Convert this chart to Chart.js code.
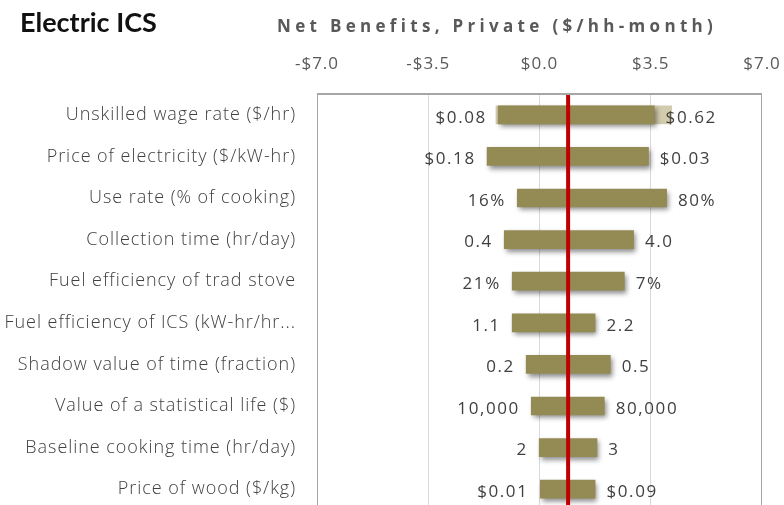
<!DOCTYPE html>
<html><head><meta charset="utf-8">
<script src="https://cdn.jsdelivr.net/npm/chart.js@4/dist/chart.umd.min.js"></script>
<style>
html,body{margin:0;padding:0;overflow:hidden;background:#fff;width:784px;height:505px}
#wrap{position:relative;width:784px;height:516px}
</style></head>
<body><div id="wrap"><canvas id="c" width="784" height="516"></canvas></div>
<script>
const chartTitle = 'Electric ICS';
const axisTitle = 'Net Benefits, Private ($/hh-month)';
const categories = [
  'Unskilled wage rate ($/hr)',
  'Price of electricity ($/kW-hr)',
  'Use rate (% of cooking)',
  'Collection time (hr/day)',
  'Fuel efficiency of trad stove',
  'Fuel efficiency of ICS (kW-hr/hr...',
  'Shadow value of time (fraction)',
  'Value of a statistical life ($)',
  'Baseline cooking time (hr/day)',
  'Price of wood ($/kg)'
];
const lowValues  = [-1.31, -1.66, -0.71, -1.12, -0.87, -0.87, -0.43, -0.27, -0.02, 0.00];
const highValues = [ 3.62,  3.44,  4.01,  2.97,  2.68,  1.76,  2.24,  2.05,  1.82, 1.76];
const lowLabels  = ['$0.08','$0.18','16%','0.4','21%','1.1','0.2','10,000','2','$0.01'];
const highLabels = ['$0.62','$0.03','80%','4.0','7%','2.2','0.5','80,000','3','$0.09'];
const ghostLow  = [-1.38, null, null, null, null, null, null, null, null, null];
const ghostHigh = [ 4.17, null, null, null, null, null, null, null, null, null];
const baseValue = 0.9;
const tickValues = [-7, -3.5, 0, 3.5, 7];

const fmtTick = v => (v < 0 ? '-' : '') + '$' + Math.abs(v).toFixed(1);
const zeroPad = s => { s.paddingLeft = 0; s.paddingRight = 0; s.paddingTop = 0; s.paddingBottom = 0; };

const decor = {
  id: 'decor',
  beforeDraw(chart) { chart.ctx.letterSpacing = '0.95px'; },
  beforeDatasetDraw(chart, args) {
    if (args.index === 0) {
      const c = chart.ctx; c.save();
      c.shadowColor = 'rgba(0,0,0,0.45)'; c.shadowBlur = 5;
      c.shadowOffsetX = 2; c.shadowOffsetY = 3;
    }
  },
  afterDatasetDraw(chart, args) { if (args.index === 0) chart.ctx.restore(); },
  afterDatasetsDraw(chart) {
    const c = chart.ctx, xs = chart.scales.x, ca = chart.chartArea;
    const meta = chart.getDatasetMeta(0);
    c.save();
    c.font = '17px "Open Sans"';
    c.fillStyle = '#404040';
    c.letterSpacing = '1.6px';
    c.textBaseline = 'middle';
    meta.data.forEach((el, i) => {
      const y = el.y + 3;
      c.textAlign = 'right';
      c.fillText(lowLabels[i], xs.getPixelForValue(lowValues[i]) - 11, y);
      c.textAlign = 'left';
      c.fillText(highLabels[i], xs.getPixelForValue(highValues[i]) + 11, y);
    });
    c.restore();
    const bx = xs.getPixelForValue(baseValue);
    c.save();
    c.strokeStyle = '#c00000'; c.lineWidth = 4;
    c.beginPath(); c.moveTo(bx, ca.top); c.lineTo(bx, ca.bottom); c.stroke();
    c.restore();
  },
  afterDraw(chart) {
    const c = chart.ctx, ca = chart.chartArea;
    c.save();
    c.strokeStyle = '#a6a6a6'; c.lineWidth = 1;
    c.beginPath();
    c.moveTo(ca.left + 0.5, ca.top); c.lineTo(ca.left + 0.5, ca.bottom);
    c.moveTo(ca.right - 0.5, ca.top); c.lineTo(ca.right - 0.5, ca.bottom);
    c.stroke();
    c.lineWidth = 2;
    c.beginPath(); c.moveTo(ca.left, ca.top); c.lineTo(ca.right, ca.top); c.stroke();
    c.letterSpacing = '0px';
    c.textBaseline = 'alphabetic'; c.textAlign = 'left';
    c.fillStyle = '#111111';
    c.font = 'bold 27px Lato';
    c.fillText(chartTitle, 20, 32);
    c.font = 'bold 17px "Open Sans"';
    const w = c.measureText(axisTitle).width;
    const sp = (440 - w) / axisTitle.length;
    c.letterSpacing = sp.toFixed(2) + 'px';
    c.fillStyle = '#595959';
    c.fillText(axisTitle, 277, 32);
    c.restore();
  }
};

new Chart(document.getElementById('c'), {
  type: 'bar',
  data: {
    labels: categories,
    datasets: [
      {
        label: 'Net benefits range',
        data: lowValues.map((v, i) => [v, highValues[i]]),
        backgroundColor: '#948a54',
        borderWidth: 0,
        barPercentage: 0.9,
        categoryPercentage: 0.5,
        grouped: false,
        order: 0
      },
      {
        label: 'ghost',
        data: ghostLow.map((v, i) => v === null ? null : [v, ghostHigh[i]]),
        backgroundColor: '#d2cbae',
        borderWidth: 0,
        barPercentage: 0.9,
        categoryPercentage: 0.5,
        grouped: false,
        order: 1
      }
    ]
  },
  options: {
    indexAxis: 'y',
    responsive: false,
    animation: false,
    layout: { padding: { top: 50, right: 22, bottom: 6, left: 0 } },
    plugins: { legend: { display: false }, tooltip: { enabled: false }, title: { display: false } },
    scales: {
      x: {
        position: 'top',
        min: -7, max: 7,
        afterBuildTicks: s => { s.ticks = tickValues.map(v => ({ value: v })); },
        afterFit: s => { s.height = 44; zeroPad(s); },
        ticks: {
          callback: v => fmtTick(v),
          color: '#595959',
          font: { family: 'Open Sans', size: 17 },
          padding: 20,
          maxRotation: 0
        },
        grid: {
          drawTicks: false,
          color: ctx => (Math.abs(ctx.tick.value) === 7 ? 'rgba(0,0,0,0)' : '#d9d9d9')
        },
        border: { display: false }
      },
      y: {
        afterFit: s => { s.width = 317; zeroPad(s); },
        ticks: {
          color: '#404040',
          font: { family: 'Open Sans', size: 18, weight: '300' },
          padding: 21
        },
        grid: { display: false, drawTicks: false },
        border: { display: false }
      }
    }
  },
  plugins: [decor]
});
</script>
</body></html>
